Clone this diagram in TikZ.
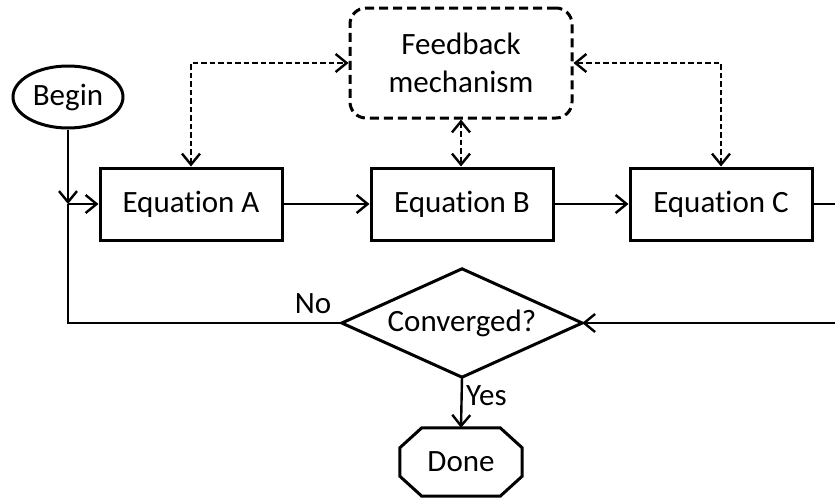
\documentclass[tikz,border=0pt]{standalone}
\usepackage{fontspec}
\setmainfont{Carlito}[Ligatures=NoCommon]
\usetikzlibrary{arrows.meta,shapes.geometric}
\begin{document}
\begin{tikzpicture}[x=1pt,y=-1pt,
  font=\fontsize{31}{38}\selectfont,
  outline/.style={line width=3pt, line join=miter},
  box/.style={draw, outline, minimum width=182pt, minimum height=72pt, inner sep=0pt},
  barb/.tip={Straight Barb[length=11pt,width=18pt]},
  flow/.style={line width=2.4pt, -barb},
  loopline/.style={line width=2.4pt},
  link/.style={line width=2.4pt, dash pattern=on 5.5pt off 3pt, barb-barb},
  lbl/.style={inner sep=0pt}]

\useasboundingbox (0,0) rectangle (835,498);
\clip (0,0) rectangle (835,498);

% start terminal
\node[ellipse, draw, outline, minimum width=110pt, minimum height=62pt, inner sep=0pt] (begin) at (68,97) {Begin};

% the three equation blocks
\node[box] (eqA) at (191,204) {Equation A};
\node[box] (eqB) at (462,204) {Equation B};
\node[box] (eqC) at (721,204) {Equation C};

% feedback block
\node[draw, outline, dash pattern=on 9pt off 5pt, rounded corners=16pt,
      minimum width=222pt, minimum height=110pt, align=center] (fb) at (461,63) {Feedback\\mechanism};

% decision diamond
\node[minimum width=240pt, minimum height=108pt, inner sep=0pt] (conv) at (462,323) {Converged?};
\draw[outline] (conv.west) -- (conv.north) -- (conv.east) -- (conv.south) -- cycle;

% end terminal (octagon)
\node[minimum width=122pt, minimum height=68pt, inner sep=0pt] (done) at (461,462) {Done};
\draw[outline] ([xshift=22pt]done.north west) -- ([xshift=-22pt]done.north east)
  -- ([yshift=-20pt]done.north east) -- ([yshift=20pt]done.south east)
  -- ([xshift=-22pt]done.south east) -- ([xshift=22pt]done.south west)
  -- ([yshift=20pt]done.south west) -- ([yshift=-20pt]done.north west) -- cycle;

% main flow
\coordinate (junc) at (begin.south |- eqA.west);
\coordinate (rt) at (850,204);
\draw[flow] (begin.south) -- (junc);
\draw[flow] (junc) -- (eqA.west);
\draw[flow] (eqA.east) -- (eqB.west);
\draw[flow] (eqB.east) -- (eqC.west);
\draw[flow] (eqC.east) -- (rt) |- (conv.east);
\draw[loopline] (conv.west) -- (conv.west -| junc) -- (junc);
\draw[flow] (conv.south) -- (done.north);

% branch labels
\node[lbl] (nolab) at (313,304) {No};
\node[lbl, anchor=west] (yeslab) at (466,396) {Yes};

% feedback links
\draw[link] (eqA.north) |- (fb.west);
\draw[link] (eqC.north) |- (fb.east);
\draw[link] (fb.south) -- (fb.south |- eqB.north);
\end{tikzpicture}
\end{document}
